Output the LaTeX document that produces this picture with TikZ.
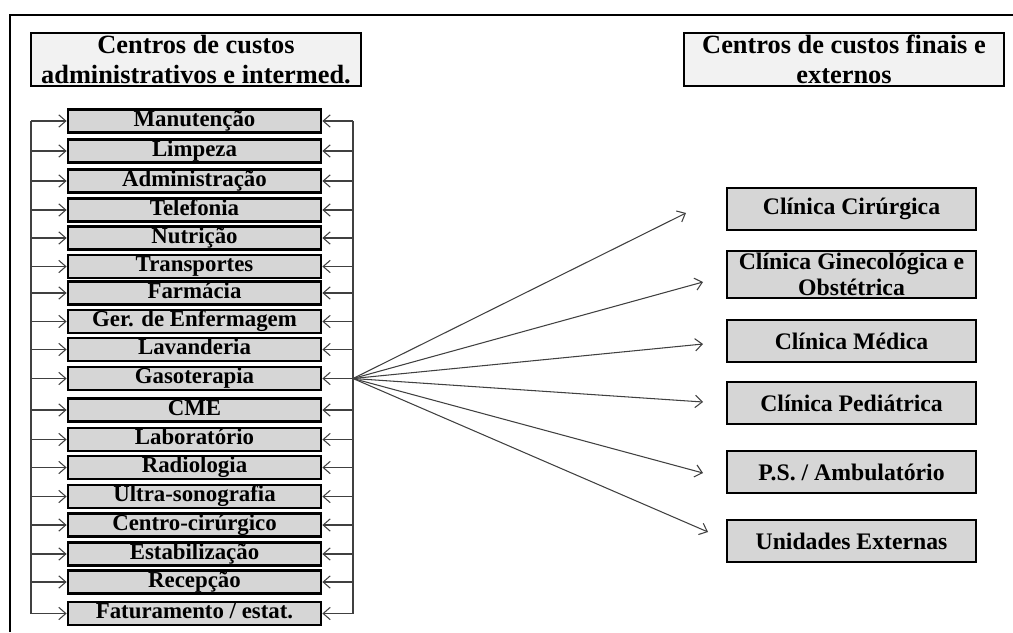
\documentclass[tikz,border=0pt]{standalone}
\usepackage{fontspec}
\setmainfont{Liberation Serif}
\usetikzlibrary{arrows.meta,positioning}

\tikzset{
  cbox/.style={draw=black, fill=black!16, line width=1.6pt, inner sep=0pt,
    minimum width=5.06cm, minimum height=0.46cm, text height=8.8pt, text depth=3pt,
    font=\fontsize{13}{13}\selectfont\bfseries},
  fbox/.style={draw=black, fill=black!16, line width=1.6pt, inner sep=0pt, align=center,
    minimum width=4.98cm, minimum height=0.84cm, font=\fontsize{13.5}{15}\selectfont\bfseries},
  tbox/.style={draw=black, fill=black!5, line width=1.3pt, inner sep=0pt, align=center,
    minimum height=1.06cm, font=\fontsize{15}{17}\selectfont\bfseries},
  arr/.style={draw=black!75, line width=0.6pt, -{Straight Barb[length=4pt,width=7pt]}}
}

\begin{document}
\begin{tikzpicture}[x=0.02cm, y=-0.02cm]
        \useasboundingbox (0,0) rectangle (1013,632);
        \draw[line width=1.5pt] (10,632) -- (10,15) -- (1013,15);

        \node[tbox, minimum width=6.6cm] (tadm) at (196,59.5) {Centros de custos\\administrativos e intermed.};
        \node[tbox, minimum width=6.4cm] (tfin) at (844,59.5) {Centros de custos finais e\\externos};

        \foreach \txt/\yy [count=\i] in {Manutenção/121, Limpeza/151, Administração/181, Telefonia/210,
            Nutrição/238, Transportes/266.5, Farmácia/293, Ger. de Enfermagem/321.5, Lavanderia/349.5,
            Gasoterapia/378.5, CME/410, Laboratório/439.5, Radiologia/467.5, Ultra-sonografia/496.5,
            Centro-cirúrgico/525, Estabilização/554, Recepção/582, {Faturamento / estat.}/613.5}
        {
            \node[cbox] (l\i) at (194.5,\yy) {\txt};
            \coordinate (la\i) at (31,\yy);
            \coordinate (ra\i) at (353,\yy);
            \draw[arr] (la\i) -- (l\i.west);
            \draw[arr] (ra\i) -- (l\i.east);
        }
        \draw[draw=black!75, line width=0.6pt] (la1) -- (la18) (ra1) -- (ra18);

        \node[fbox] (r1) at (851.5,209) {Clínica Cirúrgica};
        \node[fbox, minimum height=0.94cm] (r2) at (851.5,274.5) {Clínica Ginecológica e\\Obstétrica};
        \node[fbox] (r3) at (851.5,341) {Clínica Médica};
        \node[fbox] (r4) at (851.5,403) {Clínica Pediátrica};
        \node[fbox] (r5) at (851.5,472) {P.S. / Ambulatório};
        \node[fbox] (r6) at (851.5,541) {Unidades Externas};

        \coordinate (hub) at (353,378.5);
        \foreach \xx/\yy [count=\j] in {686/213, 703/282, 703/344, 703/402, 703/473, 708/532}
        {
            \coordinate (e\j) at (\xx,\yy);
            \draw[arr] (hub) -- (e\j);
        }
\end{tikzpicture}
\end{document}
